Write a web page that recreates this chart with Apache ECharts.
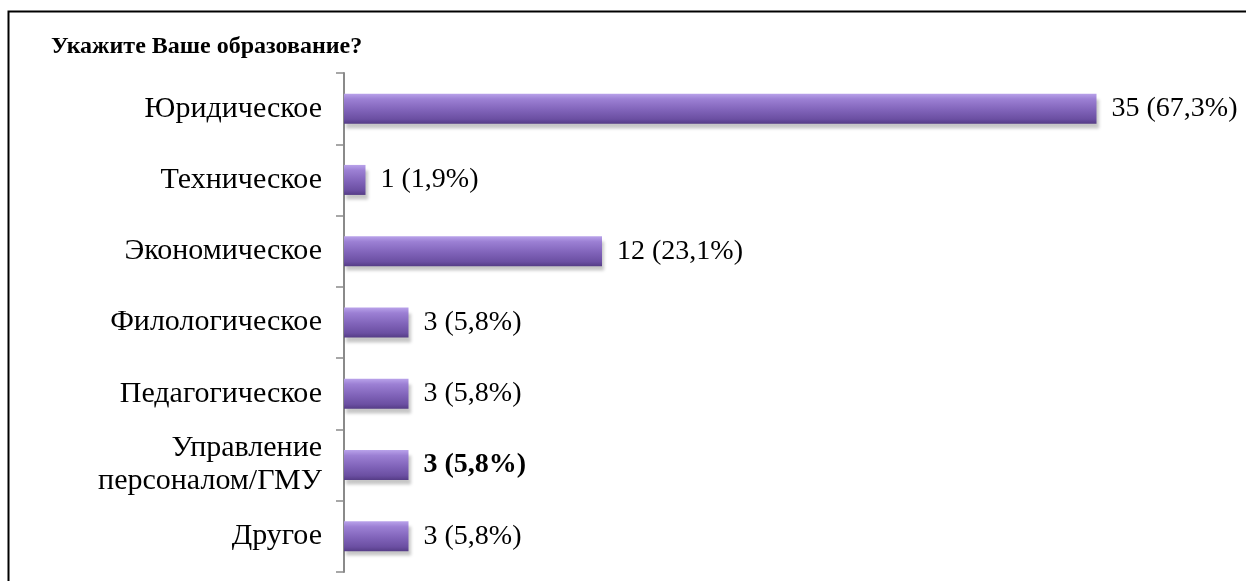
<!DOCTYPE html>
<html>
<head>
<meta charset="utf-8">
<script src="https://cdn.jsdelivr.net/npm/echarts@6/dist/echarts.min.js"></script>
<style>
  html, body { margin: 0; padding: 0; background: #fff; }
  #chart { width: 1246px; height: 581px; }
</style>
</head>
<body>
<div id="chart"></div>
<script>
// Survey: education background of respondents
const categories = ['Юридическое', 'Техническое', 'Экономическое', 'Филологическое', 'Педагогическое', 'Управление\nперсоналом/ГМУ', 'Другое'];
const counts = [35, 1, 12, 3, 3, 3, 3];
const percents = ['67,3', '1,9', '23,1', '5,8', '5,8', '5,8', '5,8'];
const boldLabelIndex = 5;

const FONT = '"Liberation Serif", "Times New Roman", serif';

const barColor = new echarts.graphic.LinearGradient(0, 0, 0, 1, [
  { offset: 0, color: '#b9a2ea' },
  { offset: 0.18, color: '#9c80d4' },
  { offset: 0.55, color: '#8063b9' },
  { offset: 0.85, color: '#6b4fa2' },
  { offset: 1, color: '#553c86' }
]);

const chart = echarts.init(document.getElementById('chart'), null, { renderer: 'canvas' });

chart.setOption({
  animation: false,
  backgroundColor: '#ffffff',
  title: {
    text: 'Укажите Ваше образование?',
    left: 46,
    top: 30,
    textStyle: { fontFamily: FONT, fontSize: 24, fontWeight: 'bold', color: '#000' }
  },
  graphic: [{
    type: 'rect',
    shape: { x: 8.5, y: 11.5, width: 1300, height: 700 },
    style: { fill: 'none', stroke: '#000', lineWidth: 2 },
    silent: true
  }],
  grid: { left: 344, right: 42, top: 73, bottom: 9, containLabel: false },
  xAxis: {
    type: 'value',
    min: 0,
    max: 40,
    show: false
  },
  yAxis: {
    type: 'category',
    inverse: true,
    data: categories,
    axisLine: { show: true, lineStyle: { color: '#8a8a8a', width: 2 } },
    axisTick: { show: true, length: 8, lineStyle: { color: '#8a8a8a', width: 1.5 } },
    axisLabel: {
      margin: 22,
      fontFamily: FONT,
      fontSize: 30,
      lineHeight: 33,
      color: '#000',
      align: 'right'
    },
    splitLine: { show: false }
  },
  series: [{
    type: 'bar',
    data: counts.map((v, i) => ({
      value: v,
      label: i === boldLabelIndex ? { fontWeight: 'bold' } : undefined
    })),
    barWidth: 30,
    itemStyle: {
      color: barColor,
      shadowColor: 'rgba(0,0,0,0.22)',
      shadowBlur: 3,
      shadowOffsetX: 2,
      shadowOffsetY: 5
    },
    label: {
      show: true,
      position: 'right',
      distance: 15,
      fontFamily: FONT,
      fontSize: 28,
      color: '#000',
      formatter: p => counts[p.dataIndex] + ' (' + percents[p.dataIndex] + '%)'
    }
  }]
});
</script>
</body>
</html>
